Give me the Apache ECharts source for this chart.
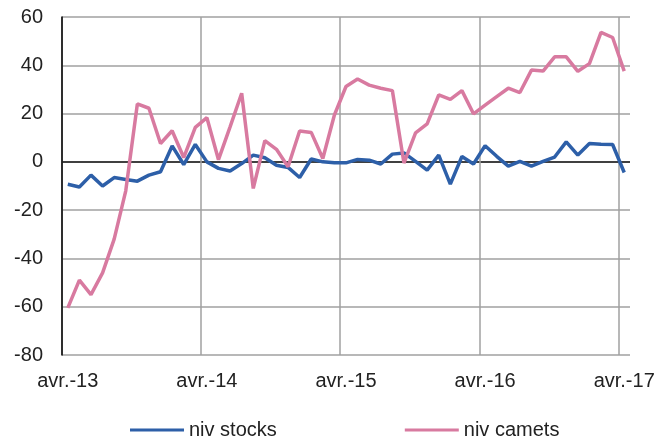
<!DOCTYPE html>
<html>
<head>
<meta charset="utf-8">
<script src="https://cdn.jsdelivr.net/npm/echarts@6/dist/echarts.min.js"></script>
<style>
	html, body { margin: 0; padding: 0; background: #fff; }
	#main { width: 671px; height: 437px; }
</style>
</head>
<body>
<div id="main"></div>
<script>
// mois abrégés (fr)
var monthNames = ['janv.', 'févr.', 'mars', 'avr.', 'mai', 'juin', 'juil.', 'août', 'sept.', 'oct.', 'nov.', 'déc.'];
// avr.-13 .. avr.-17, 49 mois
var categories = [];
for (var i = 0; i < 49; i++) {
	var m = (3 + i) % 12;
	var y = 13 + Math.floor((3 + i) / 12);
	categories.push(monthNames[m] + '-' + y);
}

var nivStocks = [
	-9.3, -10.4, -5.5, -10, -6.5, -7.3, -8, -5.5, -4.1, 6.6, -1.1, 7.2,
	0, -2.7, -3.8, -0.7, 2.8, 1.7, -1.4, -2.3, -6.5, 1.2, 0, -0.4,
	-0.4, 1, 0.7, -0.9, 3.2, 3.7, 0.2, -3.4, 2.8, -9.2, 2.2, -0.9,
	6.7, 2.3, -1.8, 0.2, -1.8, 0.2, 2, 8.3, 2.8, 7.6, 7.3, 7.2,
	-4.4
];
var nivCamets = [
	-60.5, -49, -55, -46, -32, -12, 24, 22.2, 7.6, 12.9, 1.8, 14.3,
	18.3, 0.9, 14.5, 28.4, -11, 8.8, 5.2, -2, 12.8, 12.2, 1.4, 19.4,
	31.2, 34.3, 31.8, 30.5, 29.5, -0.5, 12, 15.7, 27.7, 25.9, 29.5, 19.9,
	23.5, 27, 30.5, 28.7, 38, 37.6, 43.5, 43.5, 37.5, 40.7, 53.6, 51.5,
	37.6
];
var yTicks = { min: -80, max: 60, step: 20 };

var gridGrey = '#a0a0a0';
// la ligne du zéro en noir, les autres en gris
var hLineColors = [];
for (var v = yTicks.min; v <= yTicks.max; v += yTicks.step) {
	hLineColors.push(v === 0 ? '#000' : gridGrey);
}

var myChart = echarts.init(document.getElementById('main'));
var option = {
	animation: false,
	textStyle: { fontFamily: 'Liberation Sans, Arial, sans-serif' },
	grid: {
		left: 62,
		right: 41,
		top: 17,
		bottom: 82
	},
	legend: {
		data: ['niv stocks', 'niv camets'],
		left: 125,
		top: 415,
		icon: 'rect',
		itemWidth: 54,
		itemHeight: 3,
		itemGap: 128,
		textStyle: { fontSize: 20, color: '#222' }
	},
	xAxis: {
		type: 'category',
		data: categories,
		boundaryGap: true,
		axisLine: { show: false, onZero: false },
		axisTick: { show: false },
		axisLabel: {
			interval: 11,
			fontSize: 20,
			color: '#222',
			margin: 16
		},
		splitLine: {
			show: true,
			interval: 11,
			showMaxLine: false,		// pas de trait vertical au bord droit
			lineStyle: { color: gridGrey, width: 1.5 }
		}
	},
	yAxis: {
		type: 'value',
		min: yTicks.min,
		max: yTicks.max,
		interval: yTicks.step,
		axisLine: { show: true, lineStyle: { color: '#000', width: 1.5 } },
		axisTick: { show: false },
		axisLabel: { fontSize: 20, color: '#222', margin: 19 },
		splitLine: {
			show: true,
			lineStyle: { color: hLineColors, width: 1.5 }
		}
	},
	color: ['#2d5fa8', '#d87aa0'],
	series: [
		{
			name: 'niv stocks',
			type: 'line',
			symbol: 'none',
			lineStyle: { width: 3.5 },
			data: nivStocks
		},
		{
			name: 'niv camets',
			type: 'line',
			symbol: 'none',
			lineStyle: { width: 3.5 },
			data: nivCamets
		}
	]
};
myChart.setOption(option);
</script>
</body>
</html>
